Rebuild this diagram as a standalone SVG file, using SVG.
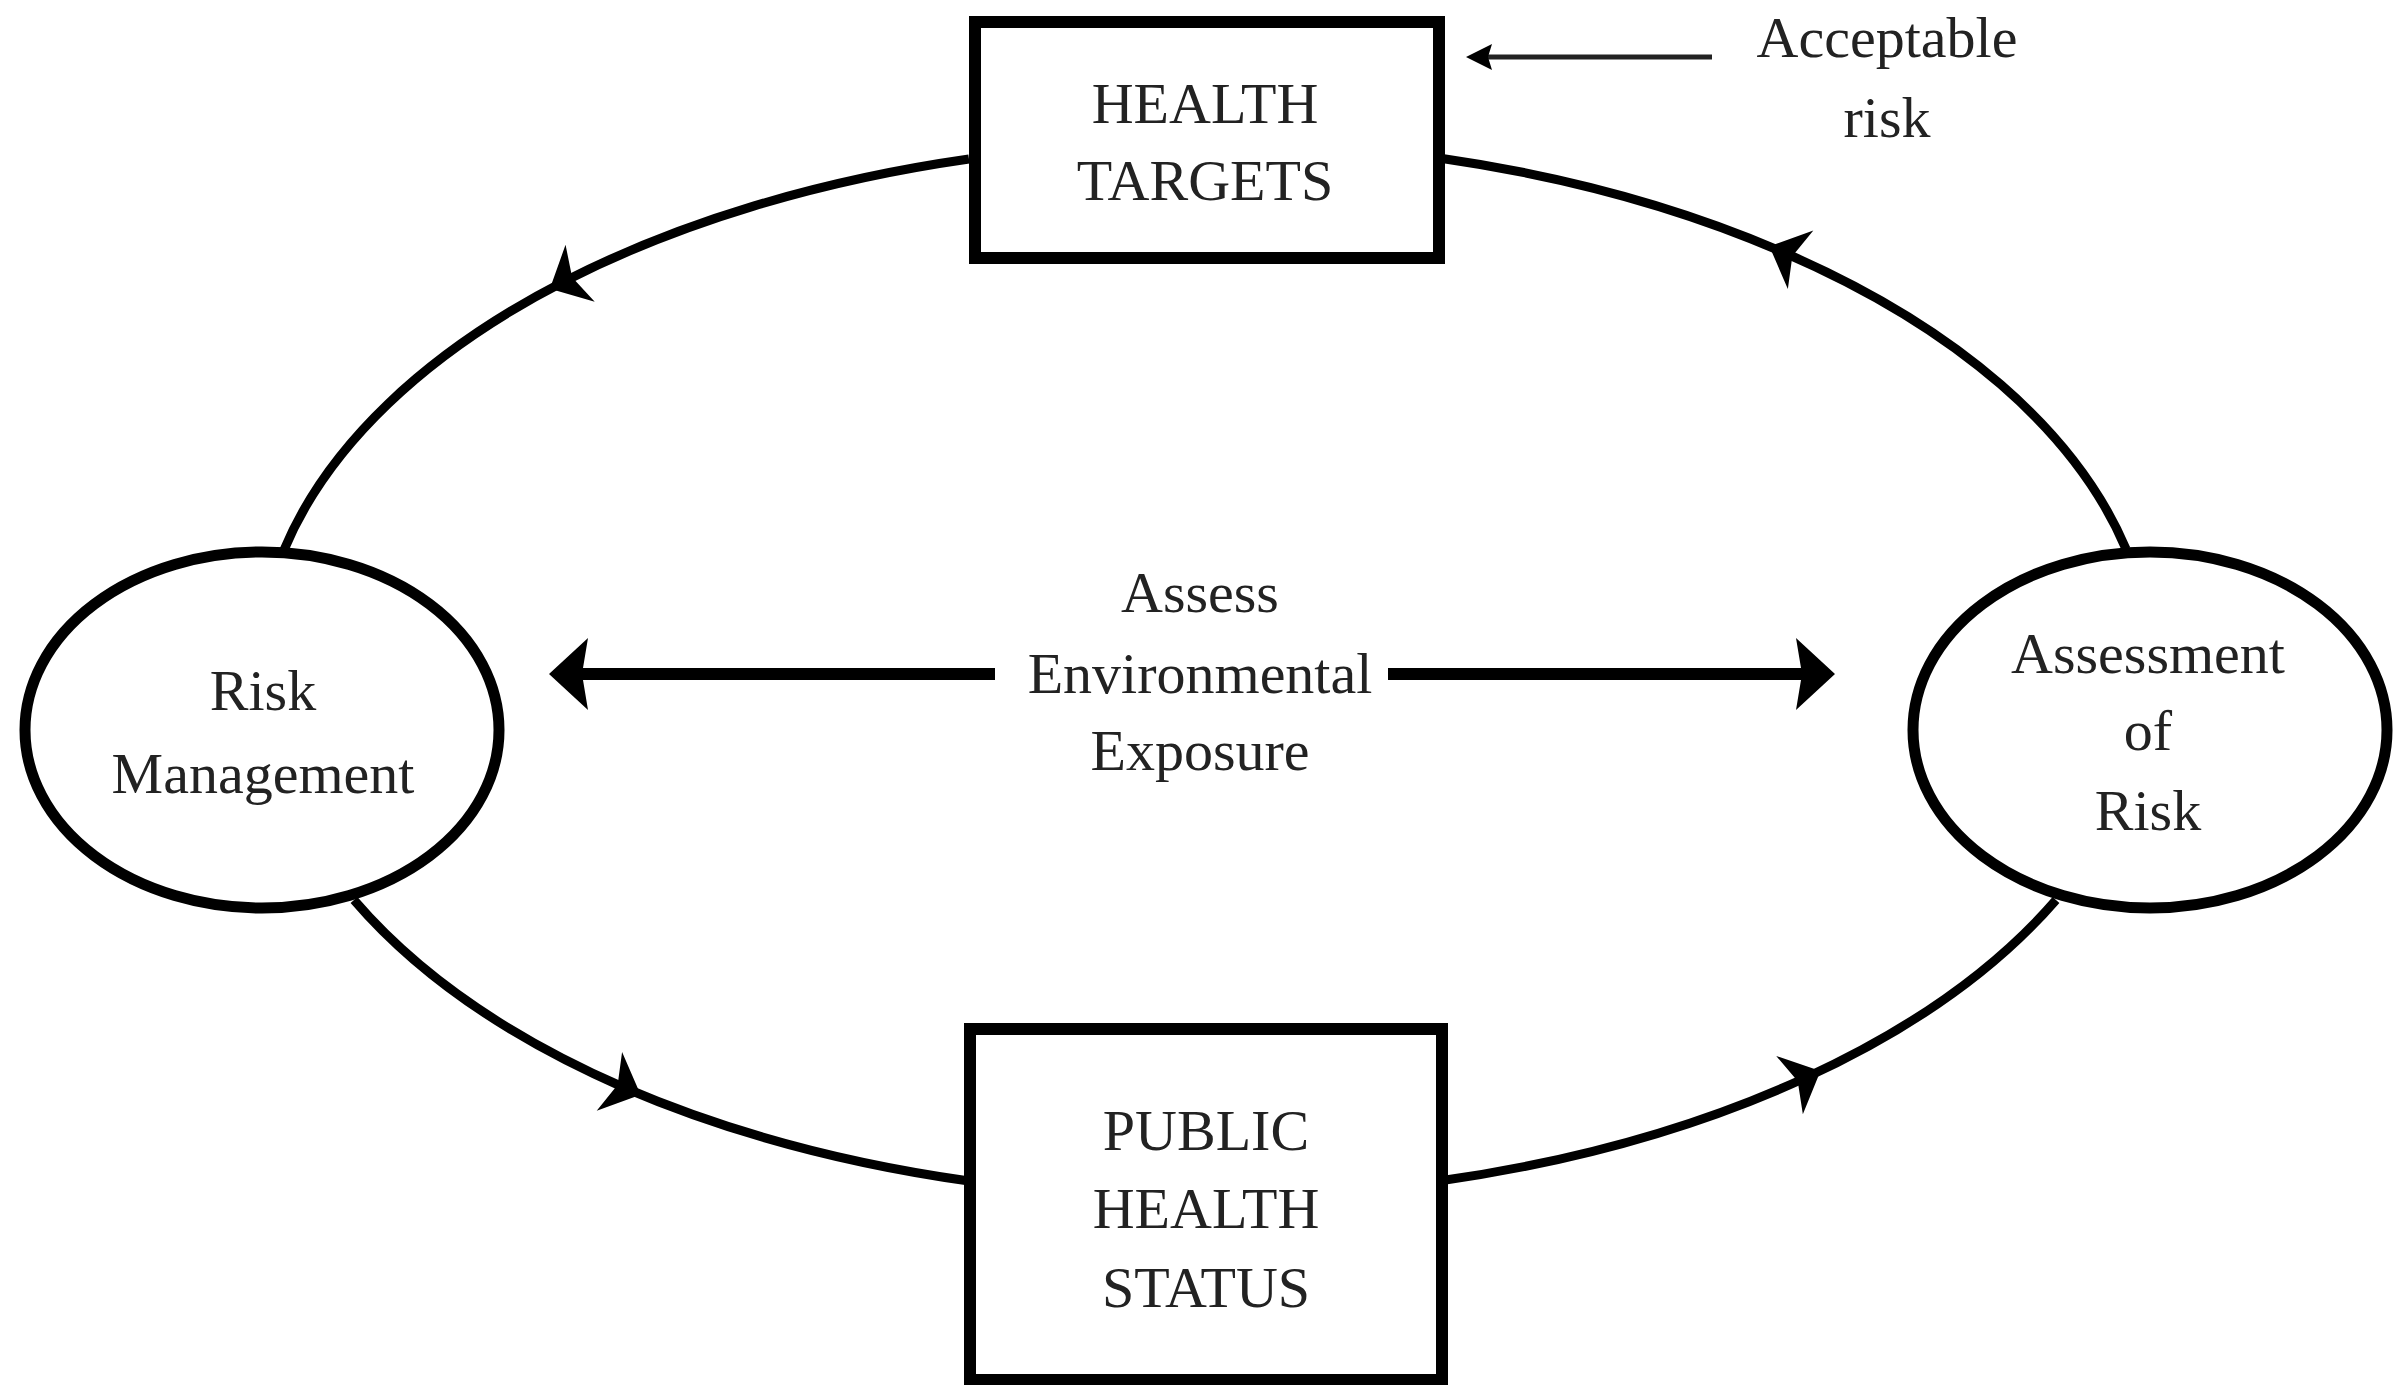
<svg xmlns="http://www.w3.org/2000/svg" width="2403" height="1385" viewBox="0 0 2403 1385">
<style>
.t{font-family:"Liberation Serif","Times New Roman",serif;font-size:58px;fill:#222;text-anchor:middle}
.node{fill:#fff;stroke:#000}
.arc{fill:none;stroke:#000;stroke-width:9}
.bar{fill:none;stroke:#000;stroke-width:12}
.thin{fill:none;stroke:#222;stroke-width:5}
</style>
<defs>
<marker id="barb" markerUnits="userSpaceOnUse" viewBox="-40 -40 80 80" markerWidth="80" markerHeight="80" refX="0" refY="0" orient="auto">
<path d="M17 0 L-17 -32 L-8 0 L-17 32 Z" fill="#000"/>
</marker>
<marker id="big" markerUnits="userSpaceOnUse" viewBox="-15 -40 55 80" markerWidth="55" markerHeight="80" refX="0" refY="0" orient="auto">
<path d="M31 0 L-8 -36 L-2 0 L-8 36 Z" fill="#000"/>
</marker>
<marker id="small" markerUnits="userSpaceOnUse" viewBox="-10 -16 40 32" markerWidth="40" markerHeight="32" refX="0" refY="0" orient="auto">
<path d="M22 0 L-4 -13 L0 0 L-4 13 Z" fill="#000"/>
</marker>
</defs>
<g id="connectors">
<path class="arc" marker-mid="url(#barb)" d="M969 159 A946 528 0 0 0 565 281 A946 528 0 0 0 284 550"/>
<path class="arc" marker-mid="url(#barb)" d="M2126 549 A946 528 0 0 0 1785 253 A946 528 0 0 0 1439 158"/>
<path class="arc" marker-mid="url(#barb)" d="M354 900 A946 528 0 0 0 625 1088 A946 528 0 0 0 969 1181"/>
<path class="arc" marker-mid="url(#barb)" d="M1439 1181 A946 528 0 0 0 1805 1078 A946 528 0 0 0 2056 900"/>
<line class="bar" x1="995" y1="674" x2="580" y2="674" marker-end="url(#big)"/>
<line class="bar" x1="1388" y1="674" x2="1804" y2="674" marker-end="url(#big)"/>
<line class="thin" x1="1712" y1="57" x2="1488" y2="57" marker-end="url(#small)"/>
</g>
<g id="health-targets">
<rect class="node" x="975" y="22" width="464" height="236" stroke-width="12"/>
<text class="t" x="1205" y="123">HEALTH</text>
<text class="t" x="1205" y="200">TARGETS</text>
</g>
<g id="acceptable-risk">
<text class="t" x="1887" y="57">Acceptable</text>
<text class="t" x="1887" y="137">risk</text>
</g>
<g id="risk-management">
<ellipse class="node" cx="262" cy="730" rx="237" ry="178" stroke-width="11"/>
<text class="t" x="263" y="710">Risk</text>
<text class="t" x="263" y="793">Management</text>
</g>
<g id="assessment-of-risk">
<ellipse class="node" cx="2150" cy="730" rx="237" ry="178" stroke-width="11"/>
<text class="t" x="2148" y="673">Assessment</text>
<text class="t" x="2148" y="750">of</text>
<text class="t" x="2148" y="830">Risk</text>
</g>
<g id="assess-exposure">
<text class="t" x="1200" y="612">Assess</text>
<text class="t" x="1200" y="693">Environmental</text>
<text class="t" x="1200" y="770">Exposure</text>
</g>
<g id="public-health-status">
<rect class="node" x="970" y="1029" width="472" height="351" stroke-width="12"/>
<text class="t" x="1206" y="1150">PUBLIC</text>
<text class="t" x="1206" y="1228">HEALTH</text>
<text class="t" x="1206" y="1307">STATUS</text>
</g>
</svg>
